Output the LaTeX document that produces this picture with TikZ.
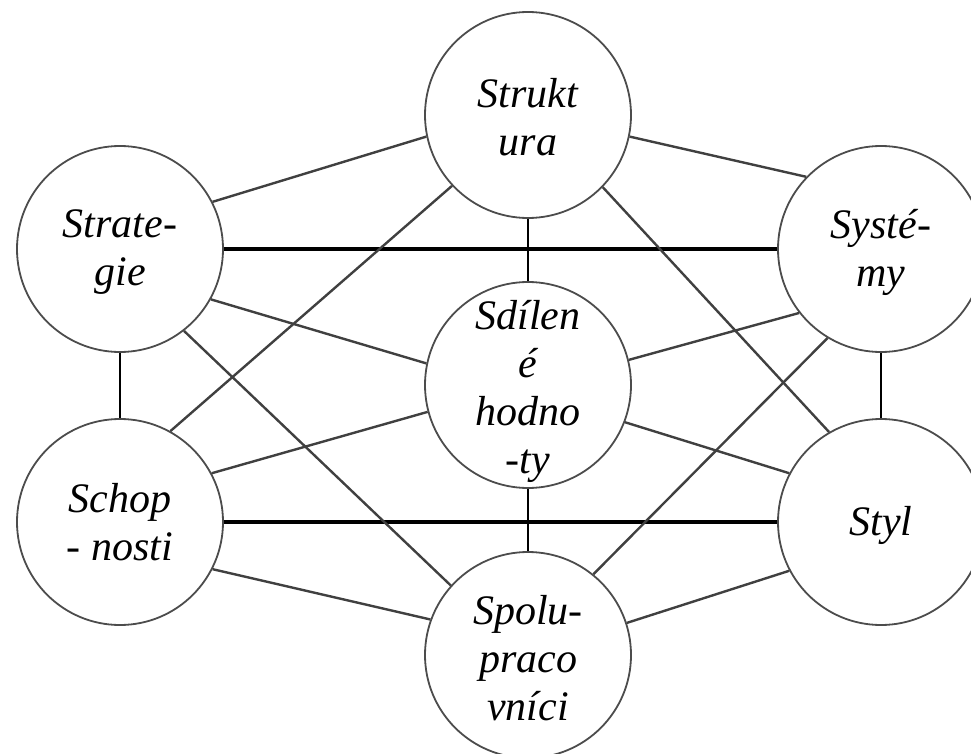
\documentclass[tikz,border=0pt]{standalone}
\usepackage{fontspec}
\setmainfont{Liberation Serif}
\begin{document}
\begin{tikzpicture}[x=1pt,y=1pt,
  circ/.style={circle, draw=black!70, line width=1.8pt, minimum size=206pt, inner sep=0pt},
  lbl/.style={font=\fontsize{42}{48}\selectfont\itshape, align=center, inner sep=0pt},
  link/.style={draw=black!75, line width=2.4pt},
  bar/.style={draw=black, line width=3.2pt},
  vbar/.style={draw=black, line width=2.2pt}]
\useasboundingbox (0,0) rectangle (971,-754);
% circles
\node[circ] (struk) at (528,-115) {};
\node[circ] (strat) at (120,-249) {};
\node[circ] (syst)  at (881,-249) {};
\node[circ] (sdil)  at (528,-385) {};
\node[circ] (schop) at (120,-522) {};
\node[circ] (styl)  at (881,-522) {};
\node[circ] (spolu) at (528,-655) {};
% labels
\node[lbl] (tstruk) at ([yshift=-2pt]struk.center) {Strukt\\ura};
\node[lbl] (tstrat) at ([yshift=-3pt]strat.center) {Strate-\\gie};
\node[lbl] (tsyst)  at ([yshift=-3pt]syst.center) {Systé-\\my};
\node[lbl] (tsdil)  at ([yshift=-6pt]sdil.center) {Sdílen\\é\\hodno\\-ty};
\node[lbl] (tschop) at ([yshift=0pt]schop.center) {Schop\\- nosti};
\node[lbl] (tstyl)  at ([yshift=-3pt]styl.center) {Styl};
\node[lbl] (tspolu) at ([yshift=-3pt]spolu.center) {Spolu-\\praco\\vníci};
% thick horizontal bars
\draw[bar] (strat.east) -- (syst.west);
\draw[bar] (schop.east) -- (styl.west);
% vertical bars
\draw[vbar] (struk.south) -- (sdil.north);
\draw[vbar] (sdil.south) -- (spolu.north);
\draw[vbar] (strat.south) -- (schop.north);
\draw[vbar] (syst.south) -- (styl.north);
% diagonal links
\draw[link] (struk.192) -- (strat.27);
\draw[link] (struk.-12) -- (syst.136);
\draw[link] (struk.223.5) -- (schop.61.5);
\draw[link] (struk.-44.6) -- (styl.120);
\draw[link] (strat.-29) -- (sdil.168);
\draw[link] (strat.-52.8) -- (spolu.138);
\draw[link] (syst.218) -- (sdil.14);
\draw[link] (syst.239) -- (spolu.51);
\draw[link] (sdil.195.5) -- (schop.28);
\draw[link] (sdil.-21) -- (styl.152);
\draw[link] (schop.-27.5) -- (spolu.160);
\draw[link] (styl.208) -- (spolu.18.4);
\end{tikzpicture}
\end{document}
